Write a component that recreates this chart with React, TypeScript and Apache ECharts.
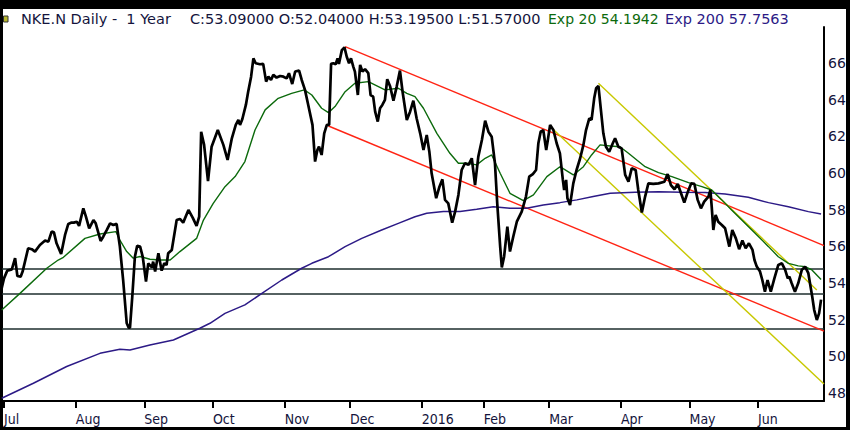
import React, { useEffect, useRef } from "react";
import * as echarts from "echarts";

// ---------- data (trading-day index from 1 Jul 2015) ----------
const monthTickDays = [0, 22, 43, 64, 86, 106, 128, 147, 167, 189, 210, 231];
const monthLabels = ["Jul", "Aug", "Sep", "Oct", "Nov", "Dec", "2016", "Feb", "Mar", "Apr", "May", "Jun"];
const priceTicks = [48, 50, 52, 54, 56, 58, 60, 62, 64, 66];

const priceDays = [
  -0.7, 0.0, 1.0, 2.4, 3.4, 4.1, 5.1, 5.7, 7.4, 8.5, 9.5, 11.0, 12.6, 13.6, 14.6, 15.3, 16.1, 17.5, 18.7, 19.7,
  20.7, 21.4, 22.3, 23.0, 24.3, 25.1, 26.1, 27.4, 28.1, 29.6, 30.4, 31.5, 32.5, 33.5, 34.5, 35.5, 36.5, 37.6, 38.2, 38.6,
  39.3, 40.1, 40.8, 41.7, 42.5, 43.5, 44.2, 45.3, 45.7, 46.3, 47.3, 48.3, 49.1, 49.8, 50.3, 51.4, 51.9, 52.9, 53.9, 54.9,
  56.5, 57.8, 59.0, 59.8, 60.4, 61.3, 62.5, 63.6, 65.5, 67.2, 68.5, 69.8, 71.0, 71.8, 72.3, 73.0, 74.1, 74.8, 75.7, 76.4,
  77.1, 78.4, 79.4, 80.3, 81.0, 81.8, 82.5, 83.5, 84.6, 85.6, 86.6, 87.3, 88.3, 89.2, 90.4, 91.2, 92.2, 93.2, 94.5, 95.3,
  96.0, 96.5, 97.3, 98.1, 98.9, 99.6, 100.2, 100.9, 101.6, 102.2, 102.6, 103.5, 104.3, 105.0, 105.7, 106.3, 107.0, 107.5, 108.4, 109.1,
  109.8, 110.6, 111.6, 112.3, 113.1, 113.7, 114.5, 115.2, 115.9, 116.7, 117.4, 118.3, 119.3, 120.3, 121.3, 122.1, 123.4, 124.4, 125.4, 126.4,
  127.5, 128.5, 129.5, 130.3, 131.0, 132.4, 133.4, 134.3, 135.1, 136.1, 137.3, 138.2, 139.2, 140.2, 141.2, 142.3, 143.3, 144.3, 145.3, 146.4,
  147.4, 148.4, 149.4, 150.4, 151.1, 152.0, 152.5, 153.2, 154.2, 155.0, 156.0, 157.1, 158.6, 159.9, 160.9, 162.0, 163.0, 163.7, 164.4, 165.2,
  166.1, 166.6, 167.3, 168.3, 169.3, 170.3, 171.2, 171.6, 172.2, 172.6, 173.4, 174.4, 175.4, 176.5, 177.5, 178.3, 179.3, 180.0, 180.8, 181.4,
  182.1, 182.8, 183.6, 184.4, 185.4, 186.5, 187.2, 188.2, 189.2, 190.3, 191.3, 192.3, 193.5, 194.3, 195.4, 196.4, 197.4, 198.9, 200.5, 202.3,
  203.3, 204.3, 205.4, 206.4, 207.4, 208.4, 209.5, 210.5, 211.5, 212.5, 213.5, 214.5, 215.8, 216.4, 216.8, 217.3, 218.0, 218.8, 219.9, 220.9,
  222.2, 223.1, 224.2, 225.2, 226.2, 227.2, 228.2, 229.3, 229.9, 230.6, 231.6, 232.3, 233.1, 233.9, 234.9, 236.0, 237.2, 238.3, 239.3, 240.1,
  240.6, 241.3, 242.3, 243.3, 244.4, 245.4, 246.4, 247.6, 248.2, 249.0, 249.7, 250.3,
];
const priceValues = [
  53.71, 54.25, 54.67, 54.74, 55.35, 54.38, 54.34, 54.62, 55.89, 55.84, 55.71, 56.07, 56.31, 56.25, 56.8, 56.76, 56.16, 55.58, 56.62, 57.22,
  57.29, 57.29, 57.34, 57.11, 58.07, 57.62, 56.98, 57.43, 57.25, 56.29, 56.52, 56.89, 57.25, 57.16, 57.22, 55.98, 54.16, 51.8, 51.56, 51.56,
  53.25, 55.43, 56.02, 55.98, 55.43, 54.07, 55.07, 54.85, 55.16, 54.62, 55.62, 54.67, 55.07, 54.98, 55.62, 55.8, 56.34, 57.43, 57.49, 57.29,
  57.98, 57.56, 57.11, 57.62, 62.25, 61.53, 59.55, 61.43, 62.34, 61.53, 60.71, 61.89, 62.62, 62.89, 62.62, 62.93, 63.71, 64.43, 65.25, 66.25,
  65.98, 65.93, 65.95, 64.98, 65.25, 65.07, 65.35, 65.2, 65.29, 65.25, 65.16, 65.44, 64.85, 65.53, 65.58, 65.07, 64.53, 63.71, 62.62, 60.62,
  61.25, 61.43, 60.98, 62.16, 62.62, 62.62, 65.95, 65.98, 65.93, 66.25, 65.95, 66.7, 66.85, 66.34, 65.98, 66.25, 65.8, 65.53, 64.25, 65.89,
  65.53, 65.66, 65.44, 64.25, 64.16, 63.34, 62.8, 63.53, 63.71, 63.98, 65.11, 64.71, 63.94, 64.71, 65.58, 64.43, 62.89, 63.34, 63.94, 62.98,
  62.16, 61.25, 62.07, 61.16, 59.98, 58.62, 59.25, 59.65, 58.53, 58.34, 57.29, 57.89, 58.8, 60.16, 60.53, 60.44, 60.8, 59.34, 60.89, 61.8,
  62.85, 62.25, 61.98, 60.53, 58.34, 55.98, 54.85, 55.43, 57.07, 55.71, 56.52, 57.34, 57.89, 58.71, 59.8, 59.94, 60.16, 61.62, 62.25, 62.34,
  61.25, 61.8, 62.62, 62.34, 61.62, 61.07, 59.62, 59.07, 59.62, 58.62, 58.25, 59.43, 60.16, 60.8, 61.53, 62.34, 62.98, 62.89, 64.07, 64.62,
  64.75, 63.53, 62.16, 61.43, 61.16, 61.62, 61.89, 61.43, 61.34, 59.89, 59.52, 60.25, 60.16, 59.07, 57.84, 58.71, 59.43, 59.4, 59.43, 59.52,
  59.94, 59.34, 59.11, 59.4, 58.89, 58.38, 58.98, 59.43, 59.4, 58.53, 58.07, 58.43, 58.71, 59.07, 58.16, 56.89, 57.71, 57.34, 57.16, 56.98,
  55.98, 56.89, 56.43, 55.84, 56.31, 55.89, 56.16, 55.8, 55.25, 54.89, 54.62, 54.16, 53.52, 54.16, 53.52, 54.25, 54.98, 55.07, 54.71, 54.25,
  54.34, 53.98, 53.52, 53.98, 54.71, 54.89, 54.53, 53.25, 52.52, 51.98, 52.34, 53.09,
];

const ema20Days = [
  -0.7, 4.9, 13.1, 16.6, 18.2, 24.8, 29.4, 34.3, 35.5, 37.6, 39.6, 41.7, 44.7, 47.8, 50.9, 53.9, 59.0, 61.1, 64.1, 67.7,
  70.8, 73.8, 76.9, 80.0, 84.0, 88.1, 92.0, 94.3, 97.3, 99.4, 101.4, 104.5, 107.5, 111.6, 114.7, 116.7, 120.8, 123.4, 125.9, 128.5,
  132.6, 136.6, 139.2, 141.8, 144.8, 147.4, 149.4, 152.0, 155.0, 159.1, 162.2, 166.3, 170.3, 174.4, 177.5, 180.0, 182.6, 185.7, 188.7, 191.3,
  196.4, 200.5, 204.6, 209.7, 213.8, 216.8, 219.9, 222.9, 226.0, 230.1, 234.2, 237.2, 240.3, 243.3, 245.4, 247.5, 250.3,
];
const ema20Values = [
  52.52, 53.43, 54.8, 55.25, 55.4, 56.43, 56.67, 56.8, 56.34, 55.71, 55.35, 55.44, 55.29, 55.25, 55.25, 55.71, 56.43, 57.43, 58.34, 59.25,
  59.8, 60.62, 62.34, 63.44, 64.07, 64.34, 64.53, 64.25, 63.53, 63.29, 63.62, 64.43, 64.89, 64.98, 64.71, 64.53, 64.62, 64.34, 64.16, 63.53,
  62.16, 61.07, 60.53, 60.53, 60.44, 60.8, 60.98, 59.98, 58.89, 58.49, 58.8, 59.8, 60.34, 59.89, 60.34, 60.98, 61.53, 61.47, 61.43, 61.07,
  60.34, 60.02, 59.8, 59.47, 59.25, 59.07, 58.53, 57.98, 57.43, 56.71, 55.98, 55.43, 55.07, 54.93, 54.89, 54.71, 54.19,
];

const ema200Days = [
  -0.7, 9.0, 19.2, 29.4, 35.5, 38.6, 44.7, 51.9, 60.0, 63.1, 67.7, 73.8, 79.0, 85.1, 91.2, 94.3, 99.4, 104.5, 109.6, 115.7,
  120.8, 125.9, 129.5, 134.6, 139.7, 144.8, 149.9, 155.0, 160.1, 165.2, 170.3, 175.5, 180.5, 185.7, 193.3, 200.5, 207.6, 214.8, 220.9, 228.0,
  234.2, 240.3, 246.4, 250.3,
];
const ema200Values = [
  47.71, 48.53, 49.44, 50.16, 50.38, 50.34, 50.62, 50.89, 51.53, 51.8, 52.34, 52.8, 53.43, 54.16, 54.8, 55.07, 55.43, 55.98, 56.43, 56.89,
  57.25, 57.61, 57.8, 57.89, 57.89, 58.02, 58.16, 58.07, 58.07, 58.25, 58.38, 58.53, 58.71, 58.89, 58.95, 58.98, 58.95, 58.93, 58.85, 58.67,
  58.38, 58.16, 57.89, 57.76,
];

const supportLevels = [54.76, 53.4, 51.49];

const redUpperDays = [104.5, 251.2];
const redUpperValues = [66.89, 56.04];
const redLowerDays = [99.4, 251.2];
const redLowerValues = [62.56, 51.37];
const yellowLowerDays = [167.3, 251.2];
const yellowLowerValues = [62.53, 48.49];
const yellowUpperDays = [182.1, 249.0];
const yellowUpperValues = [64.89, 53.61];

const titleMain = "NKE.N Daily -  1 Year";
const titleQuote = "C:53.09000 O:52.04000 H:53.19500 L:51.57000";
const titleEma20 = "Exp 20 54.1942";
const titleEma200 = "Exp 200 57.7563";

const pairs = (xs: number[], ys: number[]) => xs.map((x, i) => [x, ys[i]]);

const NAVY = "#14143c";
const GREEN = "#0c6a0c";
const INDIGO = "#2c1a86";
const RED = "#ff2414";
const YELLOW = "#c8c800";
const TITLE_FONT = "14.5px 'DejaVu Sans'";

export default function App() {
  const ref = useRef<HTMLDivElement>(null);

  useEffect(() => {
    document.body.style.margin = "0";
    if (!ref.current) return;
    const chart = echarts.init(ref.current, null, { renderer: "svg" });

    const trend = (name: string, xs: number[], ys: number[], color: string) => ({
      name,
      type: "line",
      data: pairs(xs, ys),
      symbol: "none",
      silent: true,
      lineStyle: { color, width: 1.4 },
      z: 3,
    });

    const option: any = {
      animation: false,
      backgroundColor: "#ffffff",
      grid: { left: 2, right: 26, top: 27, bottom: 29, containLabel: false },
      xAxis: {
        type: "value",
        min: -0.61,
        max: 251.2,
        splitLine: { show: false },
        axisLine: { show: true, onZero: false, lineStyle: { color: "#000", width: 2 } },
        axisTick: {
          show: true,
          customValues: monthTickDays,
          length: 7,
          lineStyle: { color: "#000", width: 2 },
        },
        axisLabel: {
          customValues: monthTickDays,
          formatter: (v: number) => {
            const i = monthTickDays.indexOf(Math.round(v));
            return i >= 0 ? monthLabels[i] : "";
          },
          align: "left",
          margin: 11,
          color: NAVY,
          fontFamily: "DejaVu Sans Condensed, DejaVu Sans",
          fontSize: 14,
        },
      },
      yAxis: {
        type: "value",
        position: "right",
        min: 47.56,
        max: 67.96,
        splitLine: { show: false },
        axisLine: { show: true, onZero: false, lineStyle: { color: "#000", width: 2 } },
        axisTick: { show: false },
        axisLabel: {
          customValues: priceTicks,
          margin: 4,
          color: NAVY,
          fontFamily: "DejaVu Sans",
          fontSize: 14,
        },
      },
      series: [
        trend("redUpper", redUpperDays, redUpperValues, RED),
        trend("redLower", redLowerDays, redLowerValues, RED),
        trend("yellowLower", yellowLowerDays, yellowLowerValues, YELLOW),
        trend("yellowUpper", yellowUpperDays, yellowUpperValues, YELLOW),
        {
          name: "Exp 200",
          type: "line",
          data: pairs(ema200Days, ema200Values),
          symbol: "none",
          lineStyle: { color: INDIGO, width: 1.5 },
          z: 4,
        },
        {
          name: "Exp 20",
          type: "line",
          data: pairs(ema20Days, ema20Values),
          symbol: "none",
          lineStyle: { color: GREEN, width: 1.4 },
          z: 5,
        },
        {
          name: "NKE.N",
          type: "line",
          data: pairs(priceDays, priceValues),
          symbol: "none",
          lineStyle: { color: "#000", width: 2.7 },
          z: 6,
          markLine: {
            silent: true,
            symbol: ["none", "none"],
            label: { show: false },
            lineStyle: { type: "solid", color: "#1e2e2e", width: 1.5 },
            data: supportLevels.map((v) => ({ yAxis: v })),
            z: 2,
          },
        },
      ],
      graphic: [
        { type: "rect", shape: { x: 0, y: 0, width: 850, height: 9 }, style: { fill: "#000" }, silent: true },
        { type: "rect", shape: { x: 0, y: 0, width: 3, height: 430 }, style: { fill: "#000" }, silent: true },
        { type: "rect", shape: { x: 846, y: 0, width: 4, height: 430 }, style: { fill: "#000" }, silent: true },
        { type: "rect", shape: { x: 0, y: 427, width: 850, height: 3 }, style: { fill: "#000" }, silent: true },
        {
          type: "rect",
          shape: { x: 3.5, y: 16, width: 4.5, height: 6 },
          style: { fill: "#b5b52a", stroke: "#333", lineWidth: 1 },
          silent: true,
        },
        {
          type: "text",
          x: 21,
          y: 19,
          style: { text: titleMain, fill: NAVY, font: TITLE_FONT, textVerticalAlign: "middle" },
          silent: true,
        },
        {
          type: "text",
          x: 190,
          y: 19,
          style: { text: titleQuote, fill: NAVY, font: TITLE_FONT, textVerticalAlign: "middle" },
          silent: true,
        },
        {
          type: "text",
          x: 548,
          y: 19,
          style: { text: titleEma20, fill: GREEN, font: "14px 'DejaVu Sans'", textVerticalAlign: "middle" },
          silent: true,
        },
        {
          type: "text",
          x: 665,
          y: 19,
          style: { text: titleEma200, fill: INDIGO, font: TITLE_FONT, textVerticalAlign: "middle" },
          silent: true,
        },
      ],
    };

    chart.setOption(option);
    return () => chart.dispose();
  }, []);

  return (
    <div
      ref={ref}
      style={{ position: "fixed", left: 0, top: 0, width: 850, height: 430, background: "#fff" }}
    />
  );
}
